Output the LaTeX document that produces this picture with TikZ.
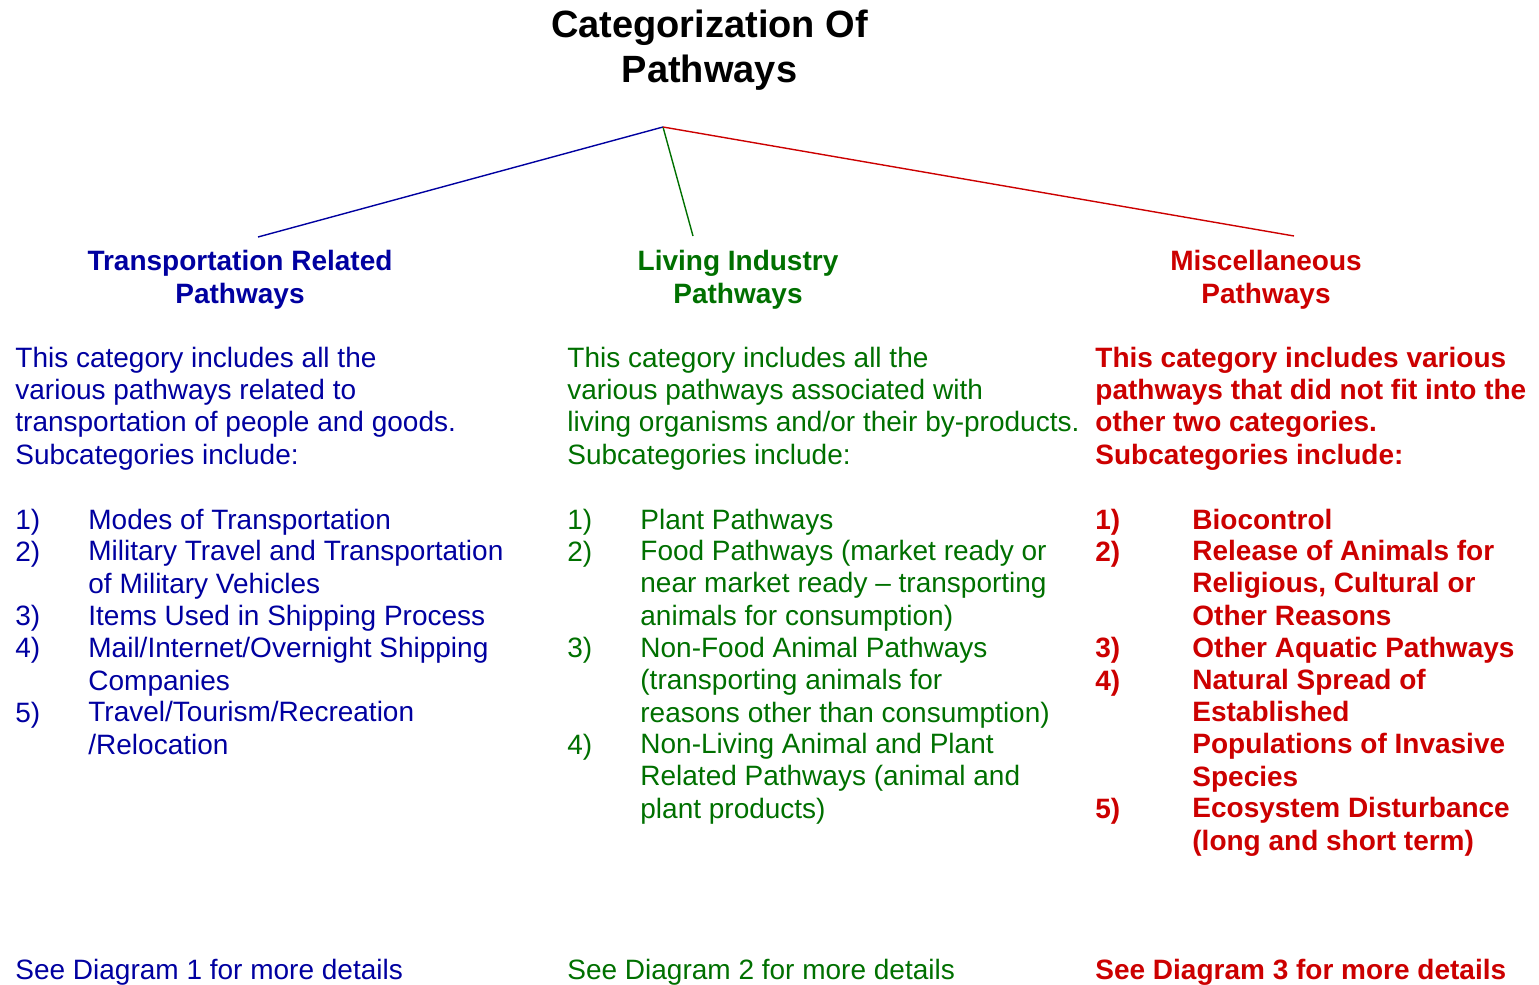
\documentclass[tikz,border=0pt]{standalone}
\usepackage{fontspec}
\setmainfont{Liberation Sans}
\definecolor{transblue}{RGB}{0,0,160}
\definecolor{livegreen}{RGB}{0,112,0}
\definecolor{miscred}{RGB}{204,0,0}
\tikzset{
  bodytext/.style={anchor=base west, align=left, inner sep=0pt, font=\fontsize{14}{16.05}\selectfont},
  boldtext/.style={bodytext, font=\fontsize{14}{16.05}\selectfont\bfseries},
  headtext/.style={anchor=base, align=center, inner sep=0pt, font=\fontsize{14}{16.05}\selectfont\bfseries},
  branch/.style={line width=0.7pt},
}
\begin{document}
\begin{tikzpicture}[x=0.5pt,y=-0.5pt]
  \useasboundingbox (0,0) rectangle (1539,985);
  % title and branches
  \node[anchor=base, align=center, inner sep=0pt, font=\fontsize{19}{22.5}\selectfont\bfseries] (title) at (709.5,83) {Categorization Of\\Pathways};
  \coordinate (split) at (663,127);
  \coordinate (transend) at (258,237);
  \coordinate (liveend) at (693,236);
  \coordinate (miscend) at (1294,236);
  \draw[branch, transblue] (split) -- (transend);
  \draw[branch, livegreen] (split) -- (liveend);
  \draw[branch, miscred] (split) -- (miscend);
  % transportation column
  \begin{scope}[transblue]
    \node[headtext] (transhead) at (240,303) {Transportation Related\\Pathways};
    \node[bodytext] (transbody) at (15,464) {This category includes all the\\various pathways related to\\transportation of people and goods.\\Subcategories include:};
    \node[bodytext] (transnum1) at (15,529) {1)};
    \node[bodytext] (transitem1) at (88,529) {Modes of Transportation};
    \node[bodytext] (transnum2) at (15,561) {2)};
    \node[bodytext] (transitem2) at (88,593) {Military Travel and Transportation\\of Military Vehicles};
    \node[bodytext] (transnum3) at (15,625) {3)};
    \node[bodytext] (transitem3) at (88,625) {Items Used in Shipping Process};
    \node[bodytext] (transnum4) at (15,657) {4)};
    \node[bodytext] (transitem4) at (88,690) {Mail/Internet/Overnight Shipping\\Companies};
    \node[bodytext] (transnum5) at (15,722) {5)};
    \node[bodytext] (transitem5) at (88,754) {Travel/Tourism/Recreation\\/Relocation};
    \node[bodytext] (transfoot) at (15,979) {See Diagram 1 for more details};
  \end{scope}
  % living industry column
  \begin{scope}[livegreen]
    \node[headtext] (livehead) at (738,303) {Living Industry\\Pathways};
    \node[bodytext] (livebody) at (567,464) {This category includes all the\\various pathways associated with\\living organisms and/or their by-products.\\Subcategories include:};
    \node[bodytext] (livenum1) at (567,529) {1)};
    \node[bodytext] (liveitem1) at (640,529) {Plant Pathways};
    \node[bodytext] (livenum2) at (567,561) {2)};
    \node[bodytext] (liveitem2) at (640,625) {Food Pathways (market ready or\\near market ready -- transporting\\animals for consumption)};
    \node[bodytext] (livenum3) at (567,657) {3)};
    \node[bodytext] (liveitem3) at (640,722) {Non-Food Animal Pathways\\(transporting animals for\\reasons other than consumption)};
    \node[bodytext] (livenum4) at (567,754) {4)};
    \node[bodytext] (liveitem4) at (640,818) {Non-Living Animal and Plant\\Related Pathways (animal and\\plant products)};
    \node[bodytext] (livefoot) at (567,979) {See Diagram 2 for more details};
  \end{scope}
  % miscellaneous column
  \begin{scope}[miscred]
    \node[headtext] (mischead) at (1266,303) {Miscellaneous\\Pathways};
    \node[boldtext] (miscbody) at (1095,464) {This category includes various\\pathways that did not fit into the\\other two categories.\\Subcategories include:};
    \node[boldtext] (miscnum1) at (1095,529) {1)};
    \node[boldtext] (miscitem1) at (1192,529) {Biocontrol};
    \node[boldtext] (miscnum2) at (1095,561) {2)};
    \node[boldtext] (miscitem2) at (1192,625) {Release of Animals for\\Religious, Cultural or\\Other Reasons};
    \node[boldtext] (miscnum3) at (1095,657) {3)};
    \node[boldtext] (miscitem3) at (1192,657) {Other Aquatic Pathways};
    \node[boldtext] (miscnum4) at (1095,690) {4)};
    \node[boldtext] (miscitem4) at (1192,786) {Natural Spread of\\Established\\Populations of Invasive\\Species};
    \node[boldtext] (miscnum5) at (1095,818) {5)};
    \node[boldtext] (miscitem5) at (1192,850) {Ecosystem Disturbance\\(long and short term)};
    \node[boldtext] (miscfoot) at (1095,979) {See Diagram 3 for more details};
  \end{scope}
\end{tikzpicture}
\end{document}
